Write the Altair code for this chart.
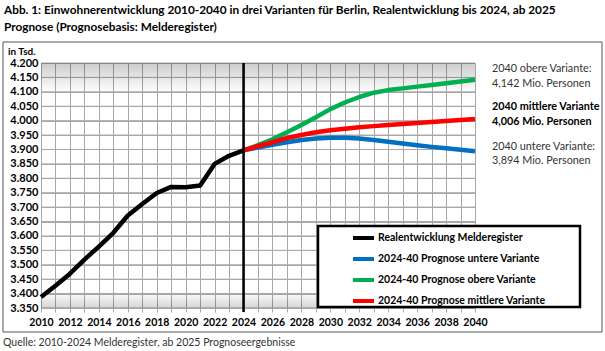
import altair as alt
import pandas as pd

# ---------------- data ----------------
years_real = list(range(2010, 2025))
real = [3388, 3427, 3469, 3518, 3563, 3611, 3671, 3711, 3749, 3770, 3769, 3775, 3850, 3878, 3897]

years_prog = list(range(2024, 2041))
untere = [3897, 3907, 3916, 3925, 3933, 3938, 3941, 3941, 3938, 3933, 3927, 3921, 3915, 3909, 3904, 3899, 3894]
obere = [3897, 3915, 3935, 3960, 3985, 4012, 4040, 4063, 4082, 4097, 4106, 4112, 4118, 4124, 4130, 4136, 4142]
mittlere = [3897, 3912, 3925, 3940, 3950, 3960, 3967, 3972, 3977, 3981, 3985, 3988, 3992, 3995, 3999, 4002, 4006]

series_names = [
    "Realentwicklung Melderegister",
    "2024-40 Prognose untere Variante",
    "2024-40 Prognose obere Variante",
    "2024-40 Prognose mittlere Variante",
]
series_colors = ["#000000", "#0070C0", "#00B050", "#FF0000"]

grid_years = list(range(2010, 2041))
grid_values = list(range(3350, 4201, 50))
split_year = [2024]

title_lines = [
    "Abb. 1: Einwohnerentwicklung 2010-2040 in drei Varianten für Berlin, Realentwicklung bis 2024, ab 2025",
    "Prognose (Prognosebasis: Melderegister)",
]
unit_label = "in Tsd."
source_text = "Quelle: 2010-2024 Melderegister, ab 2025 Prognoseergebnisse"
annotations = [
    ("2040 obere Variante:", "normal"),
    ("4,142 Mio. Personen", "normal"),
    ("2040 mittlere Variante", "bold"),
    ("4,006 Mio. Personen", "bold"),
    ("2040 untere Variante:", "normal"),
    ("3,894 Mio. Personen", "normal"),
]

# ---------------- layout ----------------
PL, PT = 41, 63          # plot origin in page pixels
W, H = 434, 245
FONT = "Lato"
GRID = "#a8a8a8"

rows = []
for y, v in zip(years_real, real):
    rows.append({"Jahr": y, "Wert": v, "Serie": series_names[0]})
for name, vals in zip(series_names[1:], [untere, obere, mittlere]):
    for y, v in zip(years_prog, vals):
        rows.append({"Jahr": y, "Wert": v, "Serie": name})
df = pd.DataFrame(rows)
df["o"] = df["Serie"].map({n: i for i, n in enumerate(series_names)})

xscale = alt.Scale(domain=[2010, 2040], nice=False, zero=False)
yscale = alt.Scale(domain=[3350, 4200], nice=False, zero=False)

x_axis = alt.Axis(values=grid_years, title=None, grid=True, gridColor=GRID, gridWidth=1,
                  domain=False, tickColor=GRID, tickSize=4, labelPadding=5,
                  labelExpr="datum.value % 2 == 0 ? format(datum.value, 'd') : ''",
                  labelFont=FONT, labelFontWeight="bold", labelFontSize=10.5,
                  labelColor="black", labelFlush=False, labelOverlap=False)
y_axis = alt.Axis(tickCount=len(grid_values) - 1, title=None, grid=True, gridColor=GRID, gridWidth=1,
                  domain=False, ticks=False, labelPadding=3, labelOverlap=False,
                  labelExpr="replace(format(datum.value, ','), ',', '.')",
                  labelFont=FONT, labelFontWeight="bold", labelFontSize=11,
                  labelColor="black", labelFlush=False)

one = pd.DataFrame({"k": [0]})

def px(v):
    return alt.value(v - PL)

def py(v):
    return alt.value(v - PT)

# frame around chart
frame = alt.Chart(one).mark_rect(fillOpacity=0, stroke="#555555", strokeWidth=1).encode(
    x=px(3), x2=px(602), y=py(42), y2=py(332)
)

# horizontal grid rules drawn from the grid values
hgrid = alt.Chart(pd.DataFrame({"Wert": grid_values})).mark_rule(color=GRID, strokeWidth=1).encode(
    y=alt.Y("Wert:Q", scale=yscale, axis=y_axis)
)

# translucent gradient bands (Excel look), grid shows through
band_top = alt.Chart(one).mark_rect(
    fill=alt.Gradient(gradient="linear", x1=0, y1=0, x2=0, y2=1,
                      stops=[alt.GradientStop(color="rgba(0,0,0,0.2)", offset=0),
                             alt.GradientStop(color="rgba(0,0,0,0)", offset=1)])
).encode(x=alt.value(0), x2=alt.value(W), y=alt.value(0), y2=alt.value(30))
band_bottom = alt.Chart(one).mark_rect(
    fill=alt.Gradient(gradient="linear", x1=0, y1=0, x2=0, y2=1,
                      stops=[alt.GradientStop(color="rgba(0,0,0,0)", offset=0),
                             alt.GradientStop(color="rgba(0,0,0,0.17)", offset=1)])
).encode(x=alt.value(0), x2=alt.value(W), y=alt.value(H - 16), y2=alt.value(H))

legend_box = alt.Chart(one).mark_rect(fill="white", stroke="black", strokeWidth=2.5).encode(
    x=px(318), x2=px(580), y=py(226), y2=py(307)
)

lines = alt.Chart(df).mark_line(strokeWidth=4.5, strokeJoin="round").encode(
    x=alt.X("Jahr:Q", scale=xscale, axis=x_axis),
    y=alt.Y("Wert:Q", scale=yscale, axis=y_axis),
    color=alt.Color("Serie:N", scale=alt.Scale(domain=series_names, range=series_colors),
                    legend=alt.Legend(title=None, orient="none", legendX=352 - PL - 1, legendY=225.5 - PT,
                                      symbolType="stroke", symbolSize=441, symbolStrokeWidth=4,
                                      labelFont=FONT, labelFontWeight="bold", labelFontSize=10.5,
                                      labelColor="black", rowPadding=0, labelOffset=2, padding=0,
                                      labelLimit=300)),
    order=alt.Order("o:Q"),
)

split = alt.Chart(pd.DataFrame({"Jahr": split_year})).mark_rule(color="black", strokeWidth=2.5).encode(
    x=alt.X("Jahr:Q", scale=xscale, axis=x_axis), y=alt.value(0), y2=alt.value(H + 4)
)

def text_layer(txt, x, y, size, weight="normal", color="black", align="left"):
    return alt.Chart(pd.DataFrame({"t": [txt]})).mark_text(
        font=FONT, fontSize=size, fontWeight=weight, color=color, align=align, baseline="middle"
    ).encode(text="t:N", x=px(x), y=py(y))

texts = [
    text_layer(title_lines[0], 4, 10, 11.8, "bold"),
    text_layer(title_lines[1], 4, 27, 11.8, "bold"),
    text_layer(unit_label, 8, 52, 10, "bold"),
    text_layer(source_text, 3, 343, 10.5, "normal", "#333333"),
]
ann_y = [69, 84, 107, 122, 147, 161]
for (t, w), yy in zip(annotations, ann_y):
    texts.append(text_layer(t, 492, yy, 10.8, w, "black" if w == "bold" else "#333333"))

chart = alt.layer(
    frame, hgrid, band_top, band_bottom, legend_box, lines, split, *texts
).properties(
    width=W, height=H,
    autosize=alt.AutoSizeParams(type="none"),
    padding={"left": PL, "top": PT, "right": 605 - PL - W, "bottom": 351 - PT - H},
).configure_view(stroke="#a8a8a8", strokeWidth=1).configure(background="white")

chart.save("out.html", embed_options={"renderer": "svg", "actions": False})
